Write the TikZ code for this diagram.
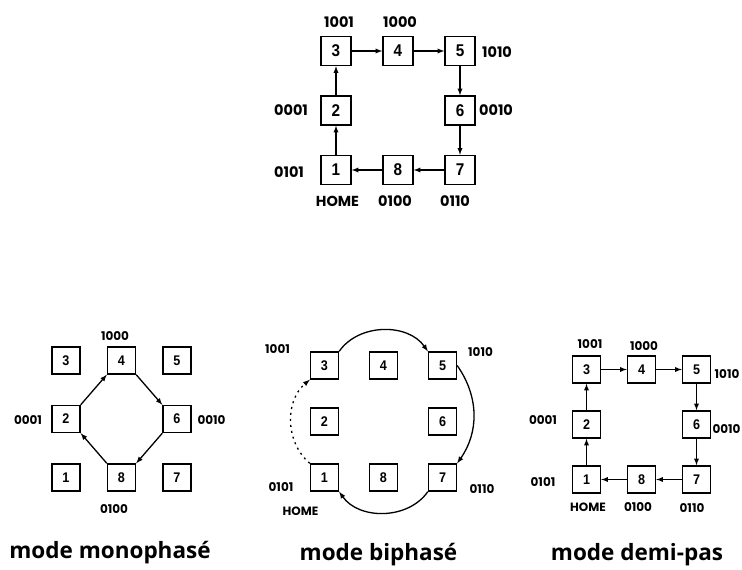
\documentclass[tikz,border=0pt]{standalone}
\usepackage{fontspec}
\setmainfont{Liberation Sans}
\newfontfamily\etiq{Poppins}
\newfontfamily\chiffre[FakeStretch=0.9]{Liberation Sans}
\newfontfamily\titre{Open Sans}
\usetikzlibrary{positioning,arrows}
\tikzset{case/.style={draw,line width=1.5pt,minimum width=30pt,minimum height=29pt,inner sep=0pt,font=\chiffre\bfseries\fontsize{17}{17}\selectfont},
	petite/.style={case,line width=1.4pt,minimum width=28pt,minimum height=27pt,font=\chiffre\bfseries\fontsize{14}{14}\selectfont},
	code/.style={inner sep=0pt,font=\etiq\bfseries\fontsize{14.5}{14.5}\selectfont},
	petitcode/.style={code,font=\etiq\bfseries\fontsize{12}{12}\selectfont},
	mode/.style={inner sep=0pt,anchor=base,font=\titre\bfseries\fontsize{22.5}{22.5}\selectfont},
	fleche/.style={-latex,line width=1.3pt},}

\begin{document}
\begin{tikzpicture}[x=1pt,y=-1pt]
	\newcommand{\grille}[6]{% prefixe, centre x, centre y, pas x, pas y, style
		\node[#6] (#1-3) at ({#2-#4},{#3-#5}) {3};
		\node[#6] (#1-4) at (#2,{#3-#5}) {4};
		\node[#6] (#1-5) at ({#2+#4},{#3-#5}) {5};
		\node[#6] (#1-2) at ({#2-#4},#3) {2};
		\node[#6] (#1-6) at ({#2+#4},#3) {6};
		\node[#6] (#1-1) at ({#2-#4},{#3+#5}) {1};
		\node[#6] (#1-8) at (#2,{#3+#5}) {8};
		\node[#6] (#1-7) at ({#2+#4},{#3+#5}) {7};}
	\useasboundingbox (0,0) rectangle (742,570);

	% sequence complete (haut)
	\grille{h}{398}{110.5}{62}{59.5}{case}
	\node[code] (h3c) at (339,22) {1001};
	\node[code] (h4c) at (400,22) {1000};
	\node[code] (h5c) at (497,52.5) {1010};
	\node[code] (h2c) at (291,110) {0001};
	\node[code] (h6c) at (496,110) {0010};
	\node[code] (h1c) at (289,172) {0101};
	\node[code] (h1h) at (337.5,201) {HOME};
	\node[code] (h8c) at (395,201) {0100};
	\node[code] (h7c) at (455,201) {0110};
	\draw[fleche] (h-3) -- (h-4);
	\draw[fleche] (h-4) -- (h-5);
	\draw[fleche] (h-5) -- (h-6);
	\draw[fleche] (h-6) -- (h-7);
	\draw[fleche] (h-7) -- (h-8);
	\draw[fleche] (h-8) -- (h-1);
	\draw[fleche] (h-1) -- (h-2);
	\draw[fleche] (h-2) -- (h-3);

	% monophase
	\grille{m}{121.5}{419}{55.5}{58.5}{petite}
	\node[petitcode] (m4c) at (115,336) {1000};
	\node[petitcode] (m2c) at (28,420) {0001};
	\node[petitcode] (m6c) at (211.5,420) {0010};
	\node[petitcode] (m8c) at (114,509) {0100};
	\node[mode] (mt) at (110,558) {mode monophasé};
	\draw[fleche] (m-2.north east) -- (m-4.south west);
	\draw[fleche] (m-4.south east) -- (m-6.north west);
	\draw[fleche] (m-6.south west) -- (m-8.north east);
	\draw[fleche] (m-8.north west) -- (m-2.south east);

	% biphase
	\grille{b}{383.5}{421.5}{59}{56}{petite}
	\node[petitcode] (b3c) at (277.5,349) {1001};
	\node[petitcode] (b5c) at (480.5,352) {1010};
	\node[petitcode] (b1c) at (281,487) {0101};
	\node[petitcode] (b1h) at (300.5,511) {HOME};
	\node[petitcode] (b7c) at (482,489) {0110};
	\node[mode] (bt) at (378.5,560) {mode biphasé};
	\draw[fleche] (b-3.north east) to[out=55,in=125] (b-5.north west);
	\draw[fleche] (b-5.east) to[out=-55,in=55] (b-7.north east);
	\draw[fleche] (b-7.south west) to[out=-125,in=-55] (b-1.south east);
	\draw[fleche,dash pattern=on 2pt off 4pt] (b-1.north west) to[out=140,in=-140] (b-3.south west);

	% demi-pas
	\grille{d}{641.5}{424.5}{55}{55}{petite}
	\node[petitcode] (d3c) at (590,344) {1001};
	\node[petitcode] (d4c) at (644,346) {1000};
	\node[petitcode] (d5c) at (727,374) {1010};
	\node[petitcode] (d2c) at (543,420) {0001};
	\node[petitcode] (d6c) at (726.5,429) {0010};
	\node[petitcode] (d1c) at (543,482) {0101};
	\node[petitcode] (d1h) at (588,507) {HOME};
	\node[petitcode] (d8c) at (638,507) {0100};
	\node[petitcode] (d7c) at (692,508) {0110};
	\node[mode] (dt) at (637,560) {mode demi-pas};
	\draw[fleche] (d-3) -- (d-4);
	\draw[fleche] (d-4) -- (d-5);
	\draw[fleche] (d-5) -- (d-6);
	\draw[fleche] (d-6) -- (d-7);
	\draw[fleche] (d-7) -- (d-8);
	\draw[fleche] (d-8) -- (d-1);
	\draw[fleche] (d-1) -- (d-2);
	\draw[fleche] (d-2) -- (d-3);
\end{tikzpicture}
\end{document}
